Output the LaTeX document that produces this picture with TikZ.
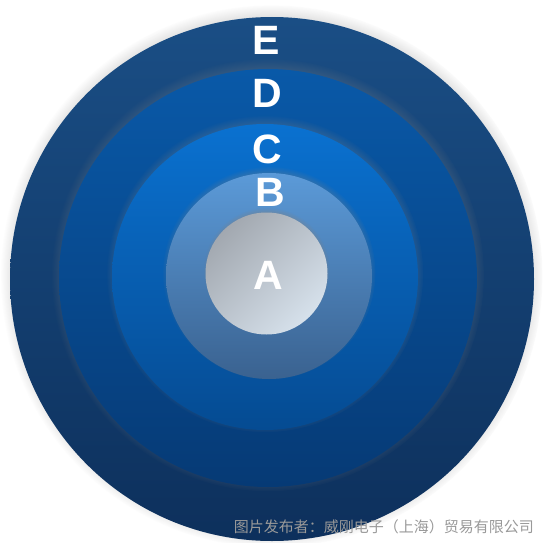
\documentclass[tikz,border=0pt]{standalone}
\usepackage{fontspec}
\setmainfont{Liberation Sans}
\newfontfamily\cjk{Noto Sans CJK SC}
\usetikzlibrary{shadows}
\definecolor{ringEtop}{HTML}{1A4E85}
\definecolor{ringEbot}{HTML}{0D305C}
\definecolor{ringDtop}{HTML}{0959A8}
\definecolor{ringDbot}{HTML}{063A75}
\definecolor{ringCtop}{HTML}{0A71D0}
\definecolor{ringCbot}{HTML}{054B92}
\definecolor{ringBtop}{HTML}{5B9AD8}
\definecolor{ringBbot}{HTML}{3A6290}
\definecolor{coreA}{HTML}{A2A8B0}
\definecolor{coreAlt}{HTML}{D6E1EB}

\begin{document}
\begin{tikzpicture}[
        x=1pt,y=-1pt,
        ring/.style={circle,inner sep=0pt,
          circular drop shadow={shadow xshift=0pt,shadow yshift=3pt,shadow scale=1.035,opacity=0.7}},
        lbl/.style={text=white,font=\fontsize{41}{41}\selectfont\bfseries,inner sep=0pt},
      ]
      \useasboundingbox (0,0) rectangle (544,543);
      \node[ring,minimum size=524pt,top color=ringEtop,bottom color=ringEbot] (ringE) at (272,279) {};
      \node[ring,minimum size=418pt,top color=ringDtop,bottom color=ringDbot] (ringD) at (268,278) {};
      \node[ring,minimum size=306pt,top color=ringCtop,bottom color=ringCbot] (ringC) at (265,277) {};
      \node[ring,minimum size=206pt,top color=ringBtop,bottom color=ringBbot] (ringB) at (269,276) {};
      \node[ring,minimum size=122pt,top color=coreA,bottom color=coreAlt,shading angle=45] (ringA) at (266.5,273.5) {};
      \node[lbl] (labE) at (266,40) {E};
      \node[lbl] (labD) at (267,93) {D};
      \node[lbl] (labC) at (267,149) {C};
      \node[lbl] (labB) at (270,192) {B};
      \node[lbl] (labA) at (268,275) {A};
      \node[text=black!40,font=\cjk\fontsize{15}{15}\selectfont,anchor=east,inner sep=0pt] (credit) at (534,527) {图片发布者：威刚电子（上海）贸易有限公司};
    \end{tikzpicture}
\end{document}
